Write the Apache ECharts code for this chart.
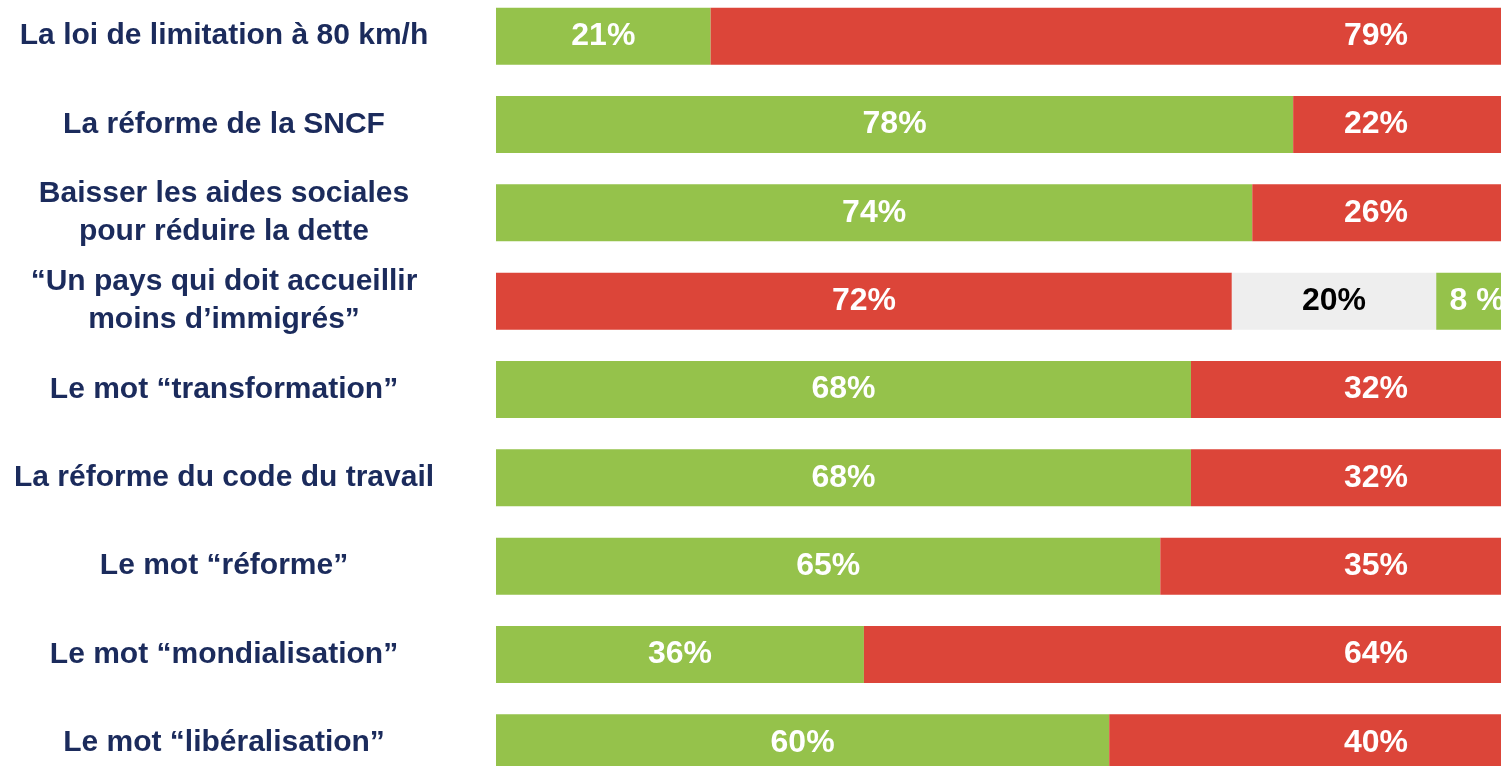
<!DOCTYPE html>
<html>
<head>
<meta charset="utf-8">
<script src="https://cdn.jsdelivr.net/npm/echarts@6/dist/echarts.min.js"></script>
<style>
  html, body { margin: 0; padding: 0; background: #ffffff; }
  #chart { width: 1501px; height: 766px; }
</style>
</head>
<body>
<div id="chart"></div>
<script>
// ---- Data ----
const categories = [
  'La loi de limitation à 80 km/h',
  'La réforme de la SNCF',
  'Baisser les aides sociales\npour réduire la dette',
  '“Un pays qui doit accueillir\nmoins d’immigrés”',
  'Le mot “transformation”',
  'La réforme du code du travail',
  'Le mot “réforme”',
  'Le mot “mondialisation”',
  'Le mot “libéralisation”'
];
const greenShare = [21, 78, 74, 8, 68, 68, 65, 36, 60];
const redShare   = [79, 22, 26, 72, 32, 32, 35, 64, 40];
const greyShare  = [null, null, null, 20, null, null, null, null, null];
const greenText  = ['21%', '78%', '74%', '8 %', '68%', '68%', '65%', '36%', '60%'];
const redText    = ['79%', '22%', '26%', '72%', '32%', '32%', '35%', '64%', '40%'];
const greyText   = [null, null, null, '20%', null, null, null, null, null];
// rows where the red share is drawn first (then grey, then green)
const redFirstRows = [3];

// ---- Build series ----
const isRedFirst = i => redFirstRows.indexOf(i) >= 0;
const greenLead = greenShare.map((v, i) => isRedFirst(i) ? null : v);
const redLead   = redShare.map((v, i) => isRedFirst(i) ? v : null);
const greenTail = greenShare.map((v, i) => isRedFirst(i) ? v : null);
const redTail   = redShare.map((v, i) => isRedFirst(i) ? null : v);

const GREEN = '#95C24B';
const RED = '#DC4539';
const GREY = '#EEEEEE';
const FONT = '"Liberation Sans", Arial, sans-serif';

const labelBase = {
  show: true,
  color: '#ffffff',
  fontFamily: FONT,
  fontWeight: 'bold',
  fontSize: 32
};

function barSeries(name, data, color, texts, labelExtra) {
  return {
    name: name,
    type: 'bar',
    stack: 'total',
    barWidth: 57,
    data: data,
    itemStyle: { color: color },
    label: Object.assign({}, labelBase, {
      position: 'inside',
      formatter: p => texts[p.dataIndex] || ''
    }, labelExtra || {})
  };
}

const chart = echarts.init(document.getElementById('chart'), null, { renderer: 'canvas' });
chart.setOption({
  animation: false,
  backgroundColor: '#ffffff',
  grid: {
    left: 496, right: -17, top: -8, bottom: -21,
    containLabel: false,
    outerBoundsMode: 'none'
  },
  xAxis: {
    type: 'value', min: 0, max: 100, show: false
  },
  yAxis: {
    type: 'category',
    inverse: true,
    data: categories,
    axisLine: { show: false },
    axisTick: { show: false },
    splitLine: { show: false },
    axisLabel: {
      align: 'center',
      margin: 272,
      color: '#1B2B5C',
      fontFamily: FONT,
      fontWeight: 'bold',
      fontSize: 30,
      lineHeight: 38
    }
  },
  series: [
    barSeries('Favorable', greenLead, GREEN, greenText),
    barSeries('Défavorable (d’abord)', redLead, RED, redText),
    barSeries('Sans opinion', greyShare, GREY, greyText, { color: '#000000' }),
    barSeries('Favorable (fin)', greenTail, GREEN, greenText),
    barSeries('Défavorable', redTail, RED, redText, { position: 'insideRight', distance: 110 })
  ]
});
</script>
</body>
</html>
